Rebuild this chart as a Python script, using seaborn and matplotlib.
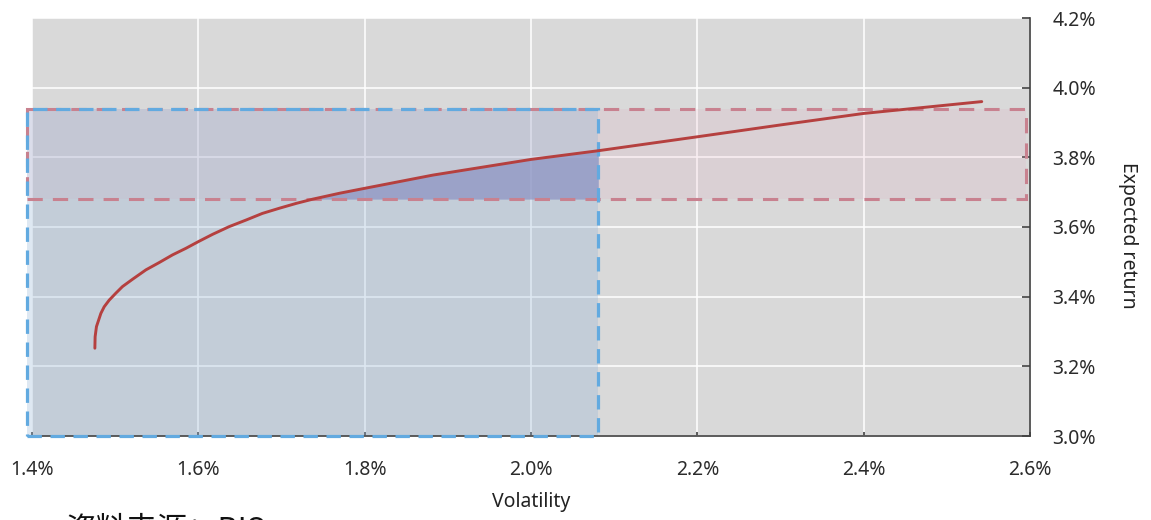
import numpy as np
import pandas as pd
import matplotlib
matplotlib.use("Agg")
import matplotlib.pyplot as plt
from matplotlib.patches import Rectangle
from matplotlib.ticker import FuncFormatter
import seaborn as sns

# frontera eficiente (volatilidad %, rendimiento esperado %)
vol = [1.4756, 1.4759, 1.4775, 1.4828, 1.4868, 1.4928, 1.5008, 1.5088, 1.5209, 1.537,
       1.553, 1.569, 1.5852, 1.600, 1.6172, 1.637, 1.6574, 1.677, 1.6976, 1.718,
       1.7377, 1.770, 1.800, 1.882, 2.000, 2.081, 2.200, 2.300, 2.400, 2.542]
ret = [3.252, 3.285, 3.314, 3.352, 3.371, 3.390, 3.410, 3.429, 3.450, 3.477,
       3.498, 3.520, 3.539, 3.558, 3.579, 3.601, 3.620, 3.639, 3.654, 3.668,
       3.680, 3.697, 3.711, 3.749, 3.794, 3.819, 3.859, 3.893, 3.926, 3.960]

# zonas de restricción
vol_limite = [1.394, 2.081]      # caja azul (volatilidad máxima)
ret_limite = [3.680, 3.939]      # caja roja (rendimiento mínimo)
ret_base = 3.0
vol_fin = 2.595

x_ticks = [1.4, 1.6, 1.8, 2.0, 2.2, 2.4, 2.6]
y_ticks = [3.0, 3.2, 3.4, 3.6, 3.8, 4.0, 4.2]

df = pd.DataFrame({"vol": vol, "ret": ret})

sns.set_theme(style="darkgrid", rc={"axes.facecolor": "#d9d9d9",
                                    "grid.color": "white",
                                    "grid.linewidth": 1.1})
plt.rcParams["font.family"] = ["Noto Sans", "Noto Sans CJK SC", "DejaVu Sans"]

fig = plt.figure(figsize=(11.51, 5.2), dpi=100)
ax = fig.add_axes([32 / 1151, (520 - 436) / 520, 998 / 1151, 418 / 520])

# rellenos de las cajas
ax.add_patch(Rectangle((vol_limite[0], ret_limite[0]), vol_fin - vol_limite[0],
                       ret_limite[1] - ret_limite[0],
                       facecolor=(230 / 255, 157 / 255, 184 / 255, 0.15),
                       edgecolor="none", zorder=1, clip_on=False))
ax.add_patch(Rectangle((vol_limite[0], ret_base), vol_limite[1] - vol_limite[0],
                       ret_limite[1] - ret_base,
                       facecolor=(147 / 255, 180 / 255, 214 / 255, 0.3),
                       edgecolor="none", zorder=1, clip_on=False))

# zona factible bajo la frontera
v = np.array(vol)
r = np.array(ret)
ax.fill_between(v, r, ret_limite[0], where=(r >= ret_limite[0]) & (v <= vol_limite[1]),
                interpolate=True, color=(138 / 255, 147 / 255, 196 / 255), alpha=0.7,
                linewidth=0, zorder=2)

# bordes punteados
ax.add_patch(Rectangle((vol_limite[0], ret_limite[0]), vol_fin - vol_limite[0],
                       ret_limite[1] - ret_limite[0], fill=False,
                       edgecolor="#c8818f", linewidth=2.2, linestyle=(0, (5, 3.3)),
                       zorder=3, clip_on=False))
ax.add_patch(Rectangle((vol_limite[0], ret_base), vol_limite[1] - vol_limite[0],
                       ret_limite[1] - ret_base, fill=False,
                       edgecolor="#62aae0", linewidth=2.3, linestyle=(0, (4.5, 2.7)),
                       zorder=4, clip_on=False))

sns.lineplot(data=df, x="vol", y="ret", sort=False, color="#b5403f", linewidth=2.1,
             ax=ax, zorder=5)

ax.set_xlim(1.4, 2.6)
ax.set_ylim(3.0, 4.2)
ax.set_xticks(x_ticks)
ax.set_yticks(y_ticks)
fmt = FuncFormatter(lambda val, pos: f"{val:.1f}%")
ax.xaxis.set_major_formatter(fmt)
ax.yaxis.set_major_formatter(fmt)

ax.yaxis.tick_right()
ax.yaxis.set_label_position("right")

for lado in ["left", "top"]:
    ax.spines[lado].set_visible(False)
for lado in ["right", "bottom"]:
    ax.spines[lado].set_visible(True)
    ax.spines[lado].set_color("#404040")
    ax.spines[lado].set_linewidth(1.2)

ax.tick_params(axis="y", direction="in", length=6, width=1.2, color="#404040",
               pad=16, labelsize=14, labelcolor="#2b2b2b", right=True, left=False)
ax.tick_params(axis="x", direction="in", length=3, width=1.2, color="#404040",
               pad=17, labelsize=14, labelcolor="#2b2b2b", bottom=True)

ax.set_xlabel("Volatility", fontsize=14, color="#222222")
ax.set_ylabel("Expected return", fontsize=14, color="#222222", rotation=270, va="center")
ax.xaxis.set_label_coords(0.5, -0.135)
ax.yaxis.set_label_coords(1.098, 0.481)

# nota de fuente, recortada por el borde inferior como en el original
fig.text(65 / 1151, 6 / 520, "资料来源：BIS", fontsize=22, va="top", ha="left",
         color="#111111", family=["Noto Sans CJK SC", "DejaVu Sans"])

fig.savefig("out.png", dpi=100)
